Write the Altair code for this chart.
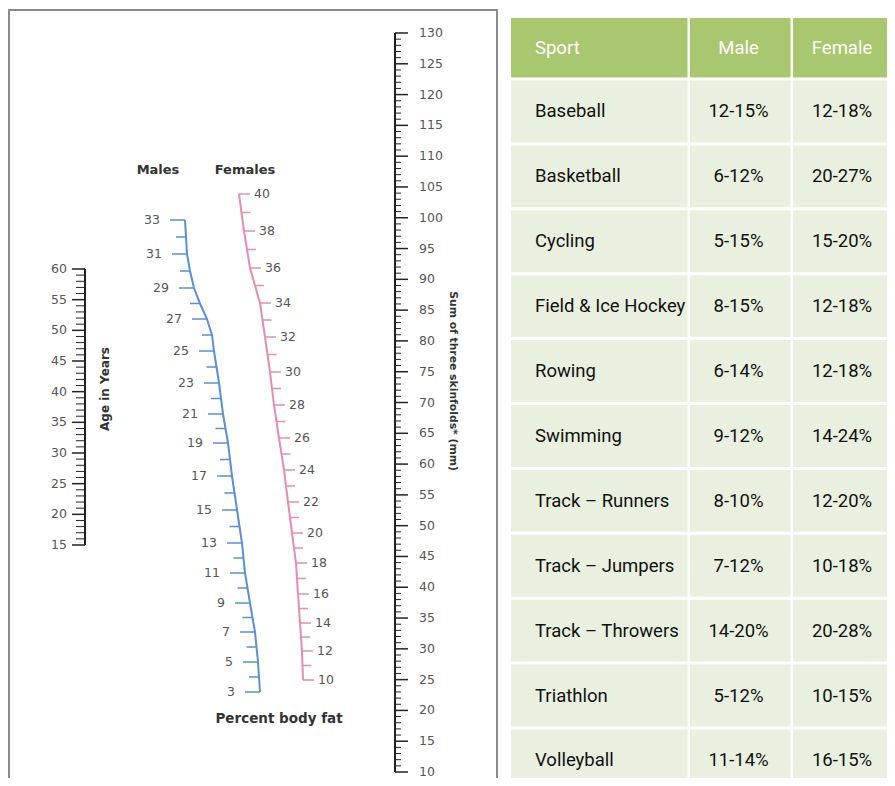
import altair as alt
import pandas as pd

# ---------------- data ----------------
HEADERS = ["Sport", "Male", "Female"]
SPORTS = ["Baseball", "Basketball", "Cycling", "Field & Ice Hockey", "Rowing",
          "Swimming", "Track – Runners", "Track – Jumpers", "Track – Throwers",
          "Triathlon", "Volleyball"]
MALE_PCT = ["12-15%", "6-12%", "5-15%", "8-15%", "6-14%", "9-12%", "8-10%",
            "7-12%", "14-20%", "5-12%", "11-14%"]
FEMALE_PCT = ["12-18%", "20-27%", "15-20%", "12-18%", "12-18%", "14-24%",
              "12-20%", "10-18%", "20-28%", "10-15%", "16-15%"]

SKINFOLD_LABELS = [10, 15, 20, 25, 30, 35, 40, 45, 50, 55, 60, 65, 70, 75, 80,
                   85, 90, 95, 100, 105, 110, 115, 120, 125, 130]
AGE_LABELS = [15, 20, 25, 30, 35, 40, 45, 50, 55, 60]
MALE_LABELS = [3, 5, 7, 9, 11, 13, 15, 17, 19, 21, 23, 25, 27, 29, 31, 33]
FEMALE_LABELS = [10, 12, 14, 16, 18, 20, 22, 24, 26, 28, 30, 32, 34, 36, 38, 40]

# ---------------- layout (page pixels) ----------------
M = 8
W, H = 895 - 2 * M, 786 - 2 * M


def px(v):
    return v - M


def S(domain, rng):
    return alt.Scale(domain=list(domain), range=[px(r) for r in rng], nice=False, zero=False)


NUM_FONT = "DejaVu Sans"
TITLE_FONT = "DejaVu Sans"
TABLE_FONT = "Roboto"
TABLE_SIZE = 18.5
LABEL_COLOR = "#555555"
TITLE_COLOR = "#333333"
BLUE = "#5a8fd4"
PINK = "#e38db6"
GREEN = "#a9c76e"
LIGHT = "#e9f0df"

# nomogram calibrations (value -> pixel)
skin_y = S([10, 130], [772, 33])
age_y = S([15, 60], [545, 269])
male_y = S([3, 5, 7, 9, 11, 13, 15, 17, 19, 21, 23, 25, 27, 29, 31, 33],
           [692, 662, 632, 603, 573, 543, 510, 476, 443, 414, 383, 351, 319, 288, 254, 220])
male_x = S([3, 5, 7, 9, 11, 13, 15, 17, 19, 21, 23, 25, 26, 27, 28, 29, 30, 31, 32, 33],
           [260, 258, 255, 250, 245, 242, 237, 232, 228, 223, 219, 214, 212, 207, 200, 194, 190, 187, 186, 185])
female_y = S([10, 12, 14, 16, 18, 20, 22, 24, 26, 28, 30, 32, 34, 36, 38, 40],
             [680, 651, 623, 594, 563, 533, 502, 470, 438, 405, 372, 337, 303, 268, 231, 194])
female_x = S([10, 12, 14, 16, 18, 20, 22, 24, 26, 28, 30, 32, 34, 35, 36, 37, 38, 40],
             [303, 302, 300, 298, 296, 292, 288, 284, 279, 274, 270, 265, 260, 255, 250, 247, 244, 239])

col_scale = S([0, 1, 2, 3], [511, 690, 793, 897])
row_scale = S([0, 1, 12], [18, 80.5, 794.4])

one = pd.DataFrame({"k": [0]})
layers = []

# frame of the nomogram panel
layers.append(alt.Chart(one).mark_rect(fill="transparent", stroke="#8a8a8a", strokeWidth=2).encode(
    x=alt.value(1), x2=alt.value(px(497)), y=alt.value(px(10)), y2=alt.value(px(820))))


def tick_frame(lo, hi, labels):
    df = pd.DataFrame({"v": list(range(lo, hi + 1))})
    df["major"] = df["v"].isin(labels)
    return df


def straight(lo, hi, labels, yscale, x_line, minor_len, major_len, side, label_gap, color):
    sign = 1 if side == "right" else -1
    df = tick_frame(lo, hi, labels)
    Y = alt.Y("v:Q", scale=yscale, axis=None)
    out = [
        alt.Chart(df).mark_rule(color=color, strokeWidth=2).encode(
            x=alt.value(px(x_line)),
            y=alt.Y("min(v):Q", scale=yscale, axis=None), y2=alt.Y2("max(v):Q")),
        alt.Chart(df).transform_filter("!datum.major").mark_rule(color=color, strokeWidth=1).encode(
            x=alt.value(px(x_line)), x2=alt.value(px(x_line + sign * minor_len)), y=Y),
        alt.Chart(df).transform_filter("datum.major").mark_rule(color=color, strokeWidth=1.5).encode(
            x=alt.value(px(x_line)), x2=alt.value(px(x_line + sign * major_len)), y=Y),
        alt.Chart(pd.DataFrame({"v": labels})).mark_text(
            align="left" if side == "right" else "right", baseline="middle",
            font=NUM_FONT, fontSize=12.5, color=LABEL_COLOR).encode(
            x=alt.value(px(x_line + sign * label_gap)), y=Y, text="v:Q"),
    ]
    return out


def curved(lo, hi, labels, xscale, yscale, minor_len, major_len, side, label_gap, color):
    sign = 1 if side == "right" else -1
    df = tick_frame(lo, hi, labels)
    X = alt.X("v:Q", scale=xscale, axis=None)
    Y = alt.Y("v:Q", scale=yscale, axis=None)
    out = [
        alt.Chart(df).mark_line(color=color, strokeWidth=2).encode(x=X, y=Y, order="v:Q"),
        alt.Chart(df).transform_filter("!datum.major").mark_rule(
            color=color, strokeWidth=1.5, x2Offset=sign * minor_len).encode(x=X, x2="v:Q", y=Y),
        alt.Chart(df).transform_filter("datum.major").mark_rule(
            color=color, strokeWidth=1.5, x2Offset=sign * major_len).encode(x=X, x2="v:Q", y=Y),
        alt.Chart(pd.DataFrame({"v": labels})).mark_text(
            align="left" if side == "right" else "right", baseline="middle",
            font=NUM_FONT, fontSize=12.5, color=LABEL_COLOR, dx=sign * label_gap).encode(
            x=X, y=Y, text="v:Q"),
    ]
    return out


layers += straight(10, 130, SKINFOLD_LABELS, skin_y, 395, 6, 13, "right", 24, "#222222")
layers += straight(15, 60, AGE_LABELS, age_y, 85, 9, 13, "left", 18, "#222222")
layers += curved(3, 33, MALE_LABELS, male_x, male_y, 10, 15, "left", 25, BLUE)
layers += curved(10, 40, FEMALE_LABELS, female_x, female_y, 9, 11, "right", 15, PINK)


def title(text, x, y, size, angle=0):
    return alt.Chart(one).mark_text(
        text=text, font=TITLE_FONT, fontSize=size, fontWeight="bold", angle=angle,
        color=TITLE_COLOR, align="center", baseline="middle").encode(
        x=alt.value(px(x)), y=alt.value(px(y)))


layers += [
    title("Males", 158, 170, 13),
    title("Females", 245, 170, 13),
    title("Percent body fat", 279, 719, 13.5),
    title("Age in Years", 105, 389, 12, 270),
    title("Sum of three skinfolds* (mm)", 453, 381, 10.8, 90),
]

# ---------------- table ----------------
rows = [HEADERS] + [[s, m, f] for s, m, f in zip(SPORTS, MALE_PCT, FEMALE_PCT)]
cells = []
for r, row in enumerate(rows):
    for c, txt in enumerate(row):
        cells.append({"r": r, "c": c, "text": txt, "kind": "header" if r == 0 else "body"})
cells = pd.DataFrame(cells)

XC = alt.X("c:Q", scale=col_scale, axis=None)
YR = alt.Y("r:Q", scale=row_scale, axis=None)

layers.append(
    alt.Chart(cells).transform_calculate(c2="datum.c + 1", r2="datum.r + 1").mark_rect(
        x2Offset=-2.5, y2Offset=-3).encode(
        x=XC, x2="c2:Q", y=YR, y2="r2:Q",
        fill=alt.condition("datum.kind == 'header'", alt.value(GREEN), alt.value(LIGHT))))

text_color = alt.condition("datum.kind == 'header'", alt.value("#ffffff"), alt.value("#111111"))
layers.append(
    alt.Chart(cells).transform_filter("datum.c == 0").transform_calculate(rm="datum.r + 0.5").mark_text(
        align="left", baseline="middle", dx=24, yOffset=-1.5, font=TABLE_FONT, fontSize=TABLE_SIZE).encode(
        x=XC, y=alt.Y("rm:Q", scale=row_scale, axis=None), text="text:N", color=text_color))
layers.append(
    alt.Chart(cells).transform_filter("datum.c > 0").transform_calculate(
        cm="datum.c + 0.5", rm="datum.r + 0.5").mark_text(
        align="center", baseline="middle", dx=-3, yOffset=-1.5, font=TABLE_FONT, fontSize=TABLE_SIZE).encode(
        x=alt.X("cm:Q", scale=col_scale, axis=None), y=alt.Y("rm:Q", scale=row_scale, axis=None),
        text="text:N", color=text_color))

chart = alt.layer(*layers).resolve_scale(x="independent", y="independent").properties(
    width=W, height=H, autosize=alt.AutoSizeParams(type="none"), padding=0, background="white"
).configure_view(strokeWidth=0)

chart.save("out.html", embed_options={"renderer": "svg", "actions": False})
